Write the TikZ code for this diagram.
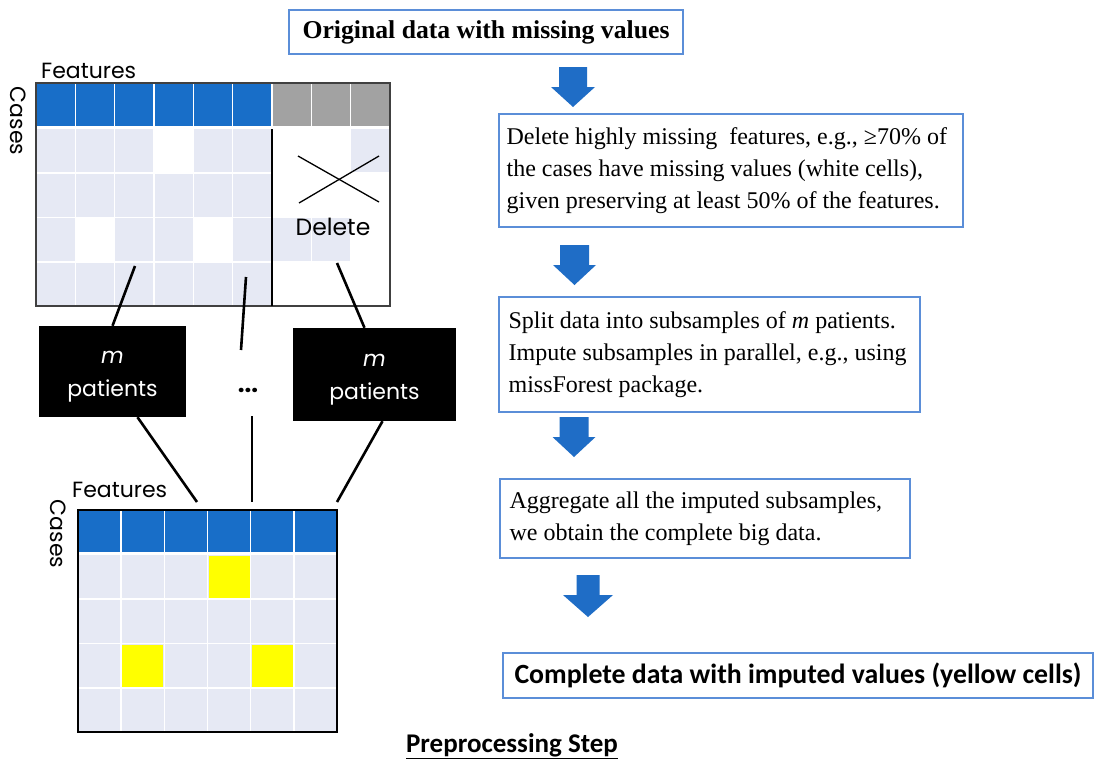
\documentclass[tikz,border=0pt]{standalone}
\usepackage{fontspec}
\setmainfont{Liberation Serif}
\newfontfamily\pop{Poppins}
\newfontfamily\carl{Carlito}
\definecolor{blueH}{HTML}{186EC8}
\definecolor{grayH}{HTML}{A2A2A2}
\definecolor{lightc}{HTML}{E6E9F4}
\definecolor{boxline}{HTML}{5B8ED8}
\definecolor{arrowblue}{HTML}{1F6DC6}
\definecolor{yel}{HTML}{FFFF00}
\newcommand\dnarrow[6]{%
  \fill[arrowblue] ({#1-#5},{#2}) -- ({#1+#5},{#2}) -- ({#1+#5},{#3}) -- ({#1+#6},{#3}) -- ({#1},{#4}) -- ({#1-#6},{#3}) -- ({#1-#5},{#3}) -- cycle;}
\begin{document}
\begin{tikzpicture}[x=1pt,y=-1pt,
  flowbox/.style={draw=boxline, line width=1.2pt, fill=white, inner sep=0pt},
  bodytext/.style={anchor=west, align=left, inner sep=0pt, font=\fontsize{24}{32}\selectfont},
  blackbox/.style={fill=black, inner sep=0pt, text=white, align=center, font=\pop\fontsize{22}{33}\selectfont},
  sanslabel/.style={inner sep=0pt, font=\pop\fontsize{22}{24}\selectfont},
  link/.style={line width=2.6pt, black},
  gridline/.style={white, line width=1.6pt},
  framethin/.style={draw=black!75, line width=1.4pt}
]
\useasboundingbox (0,0) rectangle (1095,769);
\fill[white] (0,0) rectangle (1095,769);

% ---------------- top grid ----------------
\foreach \c in {0,...,5} \fill[blueH] ({36+\c*39.33},83) rectangle ++(39.33,43);
\foreach \c in {6,7,8} \fill[grayH] ({36+\c*39.33},83) rectangle ++(39.33,43);
\foreach \c/\r in {0/0,1/0,2/0,4/0,5/0,8/0,
                   0/1,1/1,2/1,3/1,4/1,5/1,
                   0/2,2/2,3/2,5/2,6/2,7/2,
                   0/3,1/3,2/3,3/3,4/3,5/3}
  \fill[lightc] ({36+\c*39.33},{129+\r*44.25}) rectangle ++(39.33,44.25);
\foreach \k in {1,...,8} \draw[gridline] ({36+\k*39.33},83) -- ({36+\k*39.33},306);
\foreach \k in {1,2,3} \draw[gridline] (36,{129+\k*44.25}) -- (390,{129+\k*44.25});
\draw[framethin] (36,83) rectangle (390,306);
\draw[black, line width=1.2pt] (272,129) -- (272,306);
\draw[black, line width=1.3pt] (298,156) -- (379,202);
\draw[black, line width=1.3pt] (299,203) -- (379,156);
\node[sanslabel, font=\pop\fontsize{23.5}{26}\selectfont] (del) at (333,227) {Delete};
\node[sanslabel, anchor=base west] (feat1) at (41,78) {Features};
\node[sanslabel, rotate=-90] (cases1) at (18,121) {Cases};

% ---------------- bottom grid ----------------
\foreach \c in {0,...,5} \fill[blueH] ({78+\c*43.17},510) rectangle ++(43.17,42);
\foreach \c in {0,...,5} \foreach \r in {0,...,3}
  \fill[lightc] ({78+\c*43.17},{555+\r*44.25}) rectangle ++(43.17,44.25);
\foreach \c/\r in {3/0,1/2,4/2}
  \fill[yel] ({78+\c*43.17+1},{555+\r*44.25+1}) rectangle ++(41.17,42.25);
\foreach \k in {1,...,5} \draw[gridline] ({78+\k*43.17},510) -- ({78+\k*43.17},732);
\foreach \k in {1,2,3} \draw[gridline] (78,{555+\k*44.25}) -- (337,{555+\k*44.25});
\draw[black, line width=1.8pt] (78,510) rectangle (337,732);
\node[sanslabel, anchor=base west] (feat2) at (72,497) {Features};
\node[sanslabel, rotate=-90] (cases2) at (58,534) {Cases};

% ---------------- m patients boxes ----------------
\node[blackbox, minimum width=147, minimum height=91] (lbox) at (112.5,371.5) {};
\node[blackbox] (ltxt) at ([yshift=-5]lbox.center) {\itshape m\\patients};
\node[blackbox, minimum width=163, minimum height=93] (rbox) at (374.5,374.5) {};
\node[blackbox] (rtxt) at ([yshift=-5]rbox.center) {\itshape m\\patients};
\node[inner sep=0pt, font=\pop\bfseries\fontsize{24}{26}\selectfont] (dots) at (248,390) {...};

\coordinate (t1) at (135,266);
\coordinate (t2) at (246,277);
\coordinate (t3) at (337,263);
\coordinate (m1) at (241,350);
\coordinate (m2) at (252,416);
\coordinate (b1) at (197,502);
\coordinate (b2) at (252,502);
\coordinate (b3) at (337,502);
\draw[link] (t1) -- (lbox.north);
\draw[link] (t2) -- (m1);
\draw[link] (t3) -- ([xshift=-10]rbox.north);
\draw[link] ([xshift=25]lbox.south) -- (b1);
\draw[link] (m2) -- (b2);
\draw[link] ([xshift=8]rbox.south) -- (b3);

% ---------------- flow boxes ----------------
\node[flowbox, minimum width=394, minimum height=44, font=\bfseries\fontsize{25.7}{30}\selectfont] (box1) at (486,32) {Original data with missing values};
\node[flowbox, minimum width=464, minimum height=113] (box2) at (731,170.5) {};
\node[bodytext] (txt2) at ([xshift=8]box2.west) {Delete highly missing\ \ features, e.g., ≥70\% of\\the cases have missing values (white cells),\\given preserving at least 50\% of the features.};
\node[flowbox, minimum width=421, minimum height=115] (box3) at (709.5,354.5) {};
\node[bodytext] (txt3) at ([xshift=10]box3.west) {Split data into subsamples of \textit{m} patients.\\Impute subsamples in parallel, e.g., using\\missForest package.};
\node[flowbox, minimum width=410, minimum height=79] (box4) at (705,518.5) {};
\node[bodytext] (txt4) at ([xshift=10]box4.west) {Aggregate all the imputed subsamples,\\we obtain the complete big data.};
\node[flowbox, minimum width=590, minimum height=45, font=\carl\bfseries\fontsize{27.8}{30}\selectfont] (box5) at (798,675.5) {Complete data with imputed values (yellow cells)};

% ---------------- block arrows ----------------
\dnarrow{573}{67}{87}{107}{14}{22}
\dnarrow{574.5}{245}{265}{285}{14.5}{21.5}
\dnarrow{574}{417}{437}{457}{14.5}{21.5}
\dnarrow{588}{575}{595}{617}{11.5}{25}

\node[inner sep=0pt, anchor=base, font=\carl\bfseries\fontsize{27}{30}\selectfont] (title) at (512,752) {\underline{Preprocessing Step}};
\end{tikzpicture}
\end{document}
